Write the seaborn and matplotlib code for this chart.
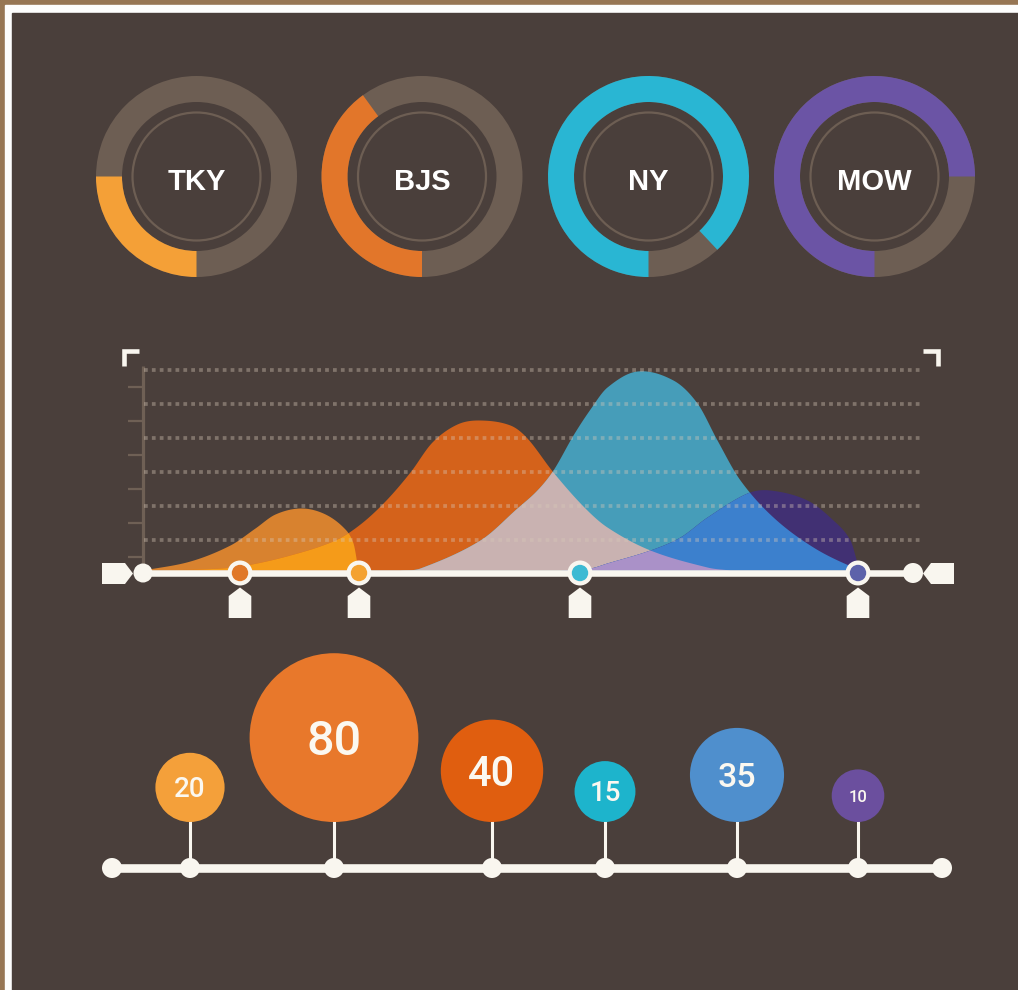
import numpy as np
import pandas as pd
import seaborn as sns
import matplotlib.pyplot as plt
from matplotlib.patches import Wedge, Circle, Polygon, Rectangle

# veriler
cities = ['TKY', 'BJS', 'NY', 'MOW']
city_pct = [25, 40, 88, 75]
city_colors = ['#f4a037', '#e2762a', '#29b6d3', '#6b54a5']

# alan grafigi egrileri (x, yukseklik)
a_x = [143, 190, 230, 255, 275, 300, 323, 343, 353, 358]
a_h = [0, 9, 25, 42, 56, 62, 57, 43, 27, 0]
b_x = [143, 200, 240, 290, 335, 360, 385, 410, 432, 457, 480, 510, 527, 553, 583, 607, 650, 707, 730]
b_h = [0, 1, 4, 15, 30, 46, 69, 98, 128, 146, 150, 145, 132, 98, 64, 43, 20, 3, 0]
c_x = [400, 420, 480, 517, 537, 553, 573, 590, 607, 637, 673, 697, 717, 740, 773, 813, 853, 866]
c_h = [0, 2, 30, 62, 80, 100, 135, 161, 183, 199, 190, 167, 130, 90, 53, 23, 3, 0]
d_x = [560, 590, 607, 650, 680, 707, 747, 770, 807, 833, 850, 858, 862]
d_h = [0, 2, 7, 20, 33, 53, 77, 80, 70, 50, 30, 5, 0]
grid_h = [30, 64, 98, 132, 166, 200]
tick_h = [13, 47, 81, 115, 149, 183]
marker_x = [240, 359, 580, 858]
marker_colors = ['#e07828', '#f4a230', '#3dbad3', '#5d62aa']

# balon grafigi
bubble_pos = [190, 334, 492, 605, 737, 858]
bubble_values = [20, 80, 40, 15, 35, 10]
bubble_colors = ['#f4a03a', '#e8782b', '#e05e0f', '#1db4cc', '#4f8fcd', '#6b4f9e']
label_sizes = [20, 35, 30, 20, 24.5, 12]

W, H = 1018, 990
bg_c = '#4a3f3b'
track_c = '#6d5e53'
cream = '#f9f6ef'

sns.set_theme(style='white')
plt.rcParams['font.family'] = ['Liberation Sans', 'DejaVu Sans']


def smooth(xk, yk, xs):
    # cardinal (catmull-rom) egri
    xk = np.asarray(xk, float)
    yk = np.asarray(yk, float)
    h = np.diff(xk)
    d = np.diff(yk) / h
    n = len(xk)
    m = np.zeros(n)
    m[1:-1] = (yk[2:] - yk[:-2]) / (xk[2:] - xk[:-2])
    m[0] = d[0]
    m[-1] = d[-1]
    ys = np.zeros_like(xs)
    ins = (xs >= xk[0]) & (xs <= xk[-1])
    idx = np.clip(np.searchsorted(xk, xs[ins]) - 1, 0, n - 2)
    t = (xs[ins] - xk[idx]) / h[idx]
    h00 = 2 * t**3 - 3 * t**2 + 1
    h10 = t**3 - 2 * t**2 + t
    h01 = -2 * t**3 + 3 * t**2
    h11 = t**3 - t**2
    ys[ins] = h00 * yk[idx] + h10 * h[idx] * m[idx] + h01 * yk[idx + 1] + h11 * h[idx] * m[idx + 1]
    return np.clip(ys, 0, None)


fig = plt.figure(figsize=(W / 100, H / 100), dpi=100)

# arka plan
ax = fig.add_axes([0, 0, 1, 1], zorder=1)
ax.set_xlim(0, W)
ax.set_ylim(H, 0)
ax.axis('off')
ax.add_patch(Rectangle((0, 0), W, H, color='#977654'))
ax.add_patch(Rectangle((5, 5), W, H, color='#fdfdfd'))
ax.add_patch(Rectangle((12, 13), W, H, color=bg_c))

# halka grafikler
donut_cx = [196.5, 422, 648.5, 874.5]
for cx, name, p, c in zip(donut_cx, cities, city_pct, city_colors):
    ax.add_patch(Wedge((cx, 176.5), 100.5, 0, 360, width=26, color=track_c, lw=0))
    ax.add_patch(Wedge((cx, 176.5), 100.5, 90, 90 + 3.6 * p, width=26, color=c, lw=0))
    ax.add_patch(Circle((cx, 176.5), 64, fill=False, ec=track_c, lw=1.6))
    ax.text(cx, 190.5, name, ha='center', va='baseline', fontsize=21,
            fontweight='bold', color='white')

# alan grafigi
ax2 = fig.add_axes([143 / W, (H - 570) / H, 779 / W, 200 / H], zorder=2)
ax2.set_xlim(143, 922)
ax2.set_ylim(0, 200)
ax2.axis('off')
ax2.patch.set_alpha(0)

xs = np.linspace(143, 922, 2000)
yA = smooth(a_x, a_h, xs)
yB = smooth(b_x, b_h, xs)
yC = smooth(c_x, c_h, xs)
yD = smooth(d_x, d_h, xs)

ax2.fill_between(xs, 0, yA, color='#d8822f', lw=0)
ax2.fill_between(xs, 0, yB, color='#d4621b', lw=0)
ax2.fill_between(xs, 0, np.minimum(yA, yB), color='#f59b19', lw=0)
ax2.fill_between(xs, 0, yC, color='#469db9', lw=0)
ax2.fill_between(xs, 0, np.minimum(yB, yC), color='#c9b2b1', lw=0)
ax2.fill_between(xs, 0, yD, color='#413073', lw=0)
ax2.fill_between(xs, 0, np.minimum(yC, yD), color='#3c80cd', lw=0)
ax2.fill_between(xs, 0, np.minimum(yB, yD), color='#aa91c8', lw=0)

for g in grid_h:
    ax2.plot([144, 922], [g, g], color='#d8c8b8', alpha=0.38, lw=2.7,
             linestyle=(0, (1, 1.1)), dash_capstyle='butt', clip_on=False, zorder=5)
ax2.plot([143, 143], [-3, 204], color='#6f6055', lw=2.3, solid_capstyle='butt', clip_on=False)
for t in tick_h:
    ax2.plot([128, 143], [t, t], color='#6f6055', lw=1.6, solid_capstyle='butt', clip_on=False)

# ust katman
ov = fig.add_axes([0, 0, 1, 1], zorder=3)
ov.patch.set_alpha(0)

# koseler
ov.plot([139, 124.5, 124.5], [350.5, 350.5, 366], color=cream, lw=3.3,
        solid_joinstyle='miter', solid_capstyle='butt')
ov.plot([923, 938.5, 938.5], [350.5, 350.5, 366], color=cream, lw=3.3,
        solid_joinstyle='miter', solid_capstyle='butt')

# taban cizgisi
ov.plot([143, 913], [573, 573], color=cream, lw=4.7, solid_capstyle='butt')
ov.add_patch(Circle((143, 573), 9.5, color=cream, lw=0))
ov.add_patch(Circle((913, 573), 10, color=cream, lw=0))
ov.add_patch(Polygon([(102, 563), (125, 563), (133, 573.5), (125, 584), (102, 584)], color=cream, lw=0))
ov.add_patch(Polygon([(954, 563), (931, 563), (923, 573.5), (931, 584), (954, 584)], color=cream, lw=0))
for mx, mc in zip(marker_x, marker_colors):
    ov.add_patch(Circle((mx, 573), 12.5, color=cream, lw=0, zorder=4))
    ov.add_patch(Circle((mx, 573), 8.2, color=mc, lw=0, zorder=4.5))
    ov.add_patch(Polygon([(mx - 11.3, 618), (mx - 11.3, 596), (mx, 587.5),
                          (mx + 11.3, 596), (mx + 11.3, 618)], color=cream, lw=0))

# balonlar
vals = np.array(bubble_values, float)
r = 18 + 0.83 * vals
cy = 822 - r
ov.vlines(bubble_pos, cy + r - 2, 868, color=cream, lw=2.2)
ov.plot([112, 942], [868, 868], color=cream, lw=6.2, solid_capstyle='butt')
for x in [112] + bubble_pos + [942]:
    ov.add_patch(Circle((x, 868), 10, color=cream, lw=0))

df = pd.DataFrame({'pos': bubble_pos, 'cy': cy, 'label': [str(v) for v in bubble_values]})
sns.scatterplot(data=df, x='pos', y='cy', hue='label',
                palette=dict(zip(df['label'], bubble_colors)),
                s=(1.44 * r) ** 2, linewidth=0, legend=False, ax=ov, zorder=4)
ov.set_xlim(0, W)
ov.set_ylim(H, 0)
ov.axis('off')

for x, y, v, fs in zip(bubble_pos, cy, bubble_values, label_sizes):
    ov.text(x, y + 0.355 * fs * 100 / 72, str(v), ha='center', va='baseline',
            fontsize=fs, fontweight='medium', color='#fbf8f0',
            family=['Roboto', 'DejaVu Sans'], zorder=5)

fig.savefig('out.png', dpi=100, facecolor=bg_c)
